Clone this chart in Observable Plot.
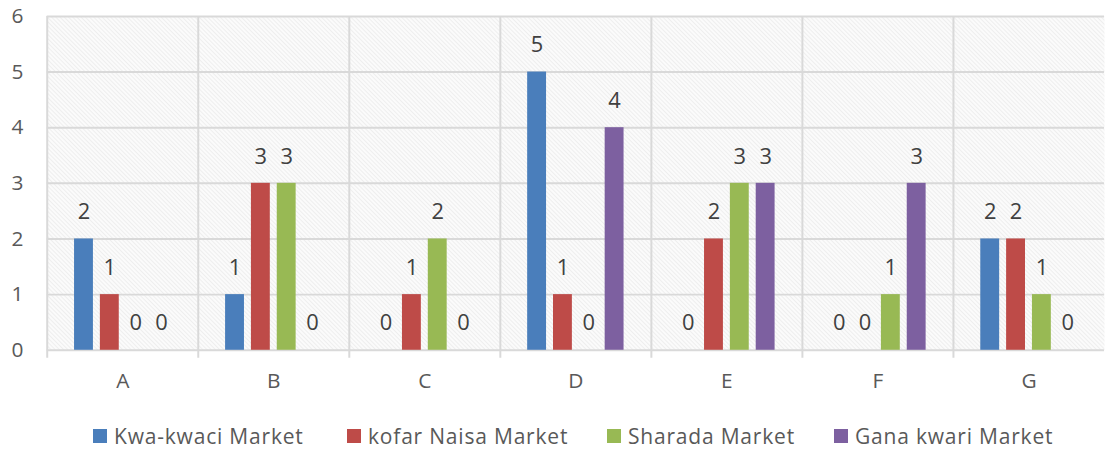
<!DOCTYPE html>
<html>
<head>
<meta charset="utf-8">
<script src="https://cdn.jsdelivr.net/npm/d3@7"></script>
<script src="https://cdn.jsdelivr.net/npm/@observablehq/plot@0.6"></script>
<style>
  html, body { margin: 0; padding: 0; background: #fff; overflow: hidden; width: 1105px; height: 449px; }
  #chart { position: relative; width: 1105px; height: 449px; }
  .legend { position: absolute; top: 405px; left: 0; width: 1105px; height: 44px; font-family: "Open Sans", sans-serif; font-size: 21px; letter-spacing: 0.8px; color: #595959; }
  .item { position: absolute; top: 19px; display: flex; align-items: center; white-space: nowrap; line-height: 24px; }
  .sw { width: 14px; height: 14px; margin-right: 7px; }
</style>
</head>
<body>
<div id="chart"></div>
<script>
const categories = ["A", "B", "C", "D", "E", "F", "G"];
const series = ["Kwa-kwaci Market", "kofar Naisa Market", "Sharada Market", "Gana kwari Market"];
const kwaKwaci   = [2, 1, 0, 5, 0, 0, 2];
const kofarNaisa = [1, 3, 1, 1, 2, 0, 2];
const sharada    = [0, 3, 2, 0, 3, 1, 1];
const ganaKwari  = [0, 0, 0, 4, 3, 3, 0];
const colors = ["#4A7EBB", "#BE4B48", "#98B954", "#7D60A0"];
const yTicks = [0, 1, 2, 3, 4, 5, 6];

const seriesValues = [kwaKwaci, kofarNaisa, sharada, ganaKwari];
const offsets = [-39, -13, 13, 39];
const legendLeft = [93, 347, 607, 834];

const marks = [
  Plot.frame({fill: "url(#hatch)", stroke: null}),
  Plot.ruleY(yTicks, {stroke: "#d9d9d9", strokeWidth: 2}),
  Plot.ruleX(categories, {x: d => d, dx: -76, stroke: "#d9d9d9", strokeWidth: 2, insetBottom: -8})
];
series.forEach((s, i) => {
  const rows = categories.map((c, j) => ({category: c, series: s, value: seriesValues[i][j]}));
  marks.push(Plot.barY(rows, {x: "category", y: "value", fill: colors[i], dx: offsets[i], insetLeft: 66.5, insetRight: 66.5}));
  marks.push(Plot.text(rows, {x: "category", y: "value", text: d => String(d.value), dx: offsets[i], dy: -27, fill: "#404040", fontSize: 22, lineAnchor: "middle", textAnchor: "middle"}));
});

const svg = Plot.plot({
  width: 1112,
  height: 405,
  marginLeft: 47,
  marginRight: 1,
  marginTop: 16,
  marginBottom: 53,
  style: {fontFamily: "Open Sans, sans-serif", fontSize: "21px", color: "#595959", background: "transparent", overflow: "visible"},
  x: {domain: categories, padding: 0, tickSize: 0, tickPadding: 23, label: null},
  y: {domain: [0, 6], ticks: yTicks, tickFormat: d => String(d), tickSize: 0, tickPadding: 24, label: null},
  marks
});
svg.insertAdjacentHTML("afterbegin", '<defs><pattern id="hatch" width="3" height="3" patternUnits="userSpaceOnUse" patternTransform="rotate(-45)"><rect width="3" height="3" fill="#fbfbfb"/><line x1="0" y1="0" x2="0" y2="3" stroke="#e6e6e6" stroke-width="1.2"/></pattern></defs>');
const chart = document.getElementById("chart");
chart.appendChild(svg);

const legend = document.createElement("div");
legend.className = "legend";
series.forEach((s, i) => {
  const item = document.createElement("div");
  item.className = "item";
  item.style.left = legendLeft[i] + "px";
  const sw = document.createElement("span");
  sw.className = "sw";
  sw.style.background = colors[i];
  const t = document.createElement("span");
  t.textContent = s;
  item.appendChild(sw);
  item.appendChild(t);
  legend.appendChild(item);
});
chart.appendChild(legend);
</script>
</body>
</html>
